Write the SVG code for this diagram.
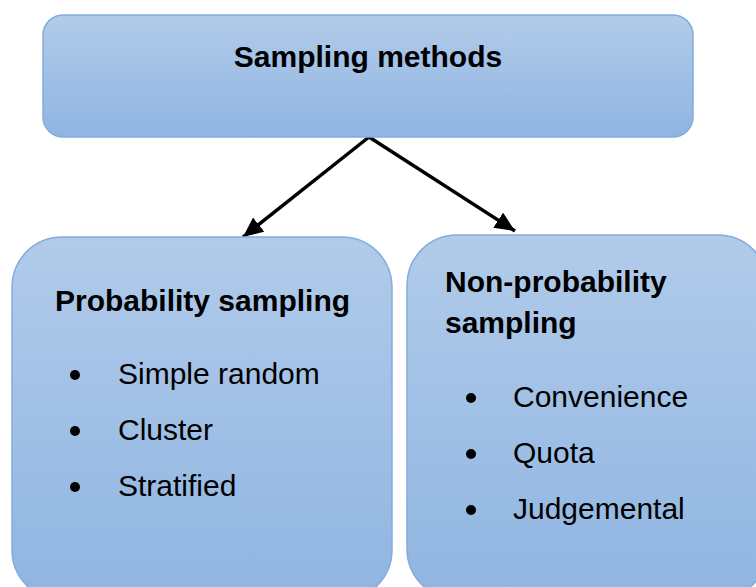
<svg xmlns="http://www.w3.org/2000/svg" width="756" height="587" viewBox="0 0 756 587">
  <defs>
    <linearGradient id="boxFill" x1="0" y1="0" x2="0" y2="1">
      <stop offset="0" stop-color="#b1cbea"/>
      <stop offset="1" stop-color="#8fb5e1"/>
    </linearGradient>
    <marker id="arrowHead" viewBox="0 0 20 18" refX="20" refY="9" markerWidth="20" markerHeight="18" markerUnits="userSpaceOnUse" orient="auto">
      <path d="M0,0 L20,9 L0,18 Z" fill="#000"/>
    </marker>
    <style>
      .box { fill: url(#boxFill); stroke: #84acdc; stroke-width: 1.5; }
      .title { font-family: "Liberation Sans", Arial, sans-serif; font-weight: bold; font-size: 30px; fill: #000; }
      .item { font-family: "Liberation Sans", Arial, sans-serif; font-size: 30px; fill: #000; }
      .bullet { fill: #000; }
      .edge { stroke: #000; stroke-width: 3.5; fill: none; marker-end: url(#arrowHead); }
    </style>
  </defs>

  <rect width="756" height="587" fill="#fff"/>

  <!-- connectors -->
  <g id="connectors">
    <line class="edge" x1="369" y1="137" x2="243" y2="237"/>
    <line class="edge" x1="369" y1="137" x2="515" y2="231"/>
  </g>

  <!-- root -->
  <g id="sampling-methods">
    <rect class="box" x="43" y="15" width="650" height="122" rx="20" ry="20"/>
    <text class="title" x="368" y="67" text-anchor="middle">Sampling methods</text>
  </g>

  <!-- probability branch -->
  <g id="probability-sampling">
    <rect class="box" x="12" y="237" width="380" height="363" rx="50" ry="50"/>
    <text class="title" x="55" y="311">Probability sampling</text>
    <circle class="bullet" cx="75" cy="375" r="5"/>
    <text class="item" x="118" y="384">Simple random</text>
    <circle class="bullet" cx="75" cy="431" r="5"/>
    <text class="item" x="118" y="440">Cluster</text>
    <circle class="bullet" cx="75" cy="487" r="5"/>
    <text class="item" x="118" y="496">Stratified</text>
  </g>

  <!-- non-probability branch -->
  <g id="non-probability-sampling">
    <rect class="box" x="407" y="235" width="361" height="364" rx="50" ry="50"/>
    <text class="title" x="445" y="292">Non-probability</text>
    <text class="title" x="445" y="333">sampling</text>
    <circle class="bullet" cx="471" cy="398" r="5"/>
    <text class="item" x="513" y="407">Convenience</text>
    <circle class="bullet" cx="471" cy="454" r="5"/>
    <text class="item" x="513" y="463">Quota</text>
    <circle class="bullet" cx="471" cy="510" r="5"/>
    <text class="item" x="513" y="519">Judgemental</text>
  </g>
</svg>
